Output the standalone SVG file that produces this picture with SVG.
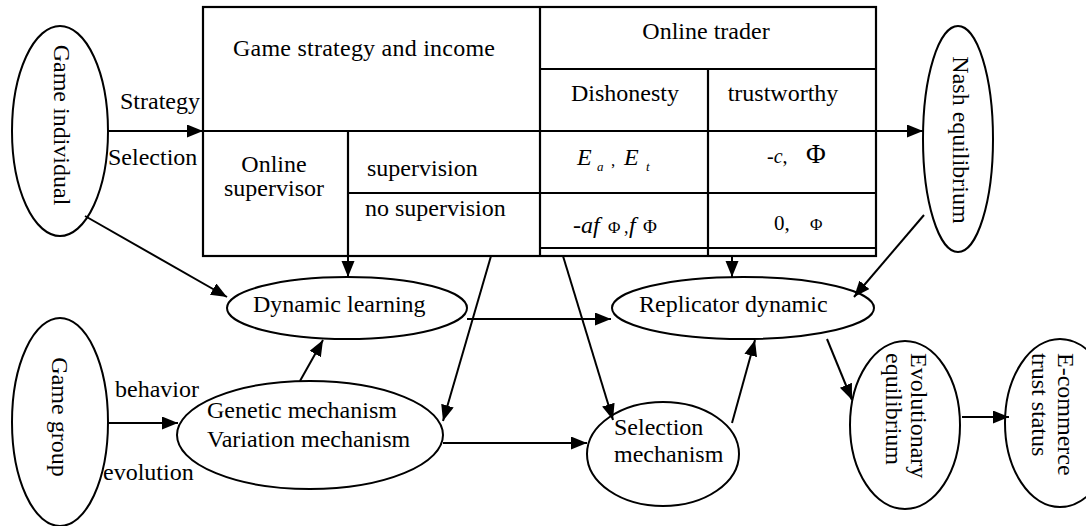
<svg xmlns="http://www.w3.org/2000/svg" width="1086" height="526" viewBox="0 0 1086 526">
<style>
.ln{stroke:#000;stroke-width:2.2;fill:none}
.node{stroke:#000;stroke-width:2;fill:#fff}
.c{stroke:#000;stroke-width:2;fill:none;marker-end:url(#ah)}
</style>
<defs>
<marker id="ah" markerUnits="userSpaceOnUse" markerWidth="18" markerHeight="14" refX="16" refY="6.5" orient="auto"><path d="M0,0 L16,6.5 L0,13 z" fill="#000"/></marker>
</defs>
<rect width="1086" height="526" fill="#fff"/>
<g id="table">
<rect class="ln" x="203" y="7" width="673" height="249"/>
<line class="ln" x1="540" y1="7" x2="540" y2="256"/>
<line class="ln" x1="540" y1="69" x2="876" y2="69"/>
<line class="ln" x1="708" y1="69" x2="708" y2="256"/>
<line class="ln" x1="203" y1="131" x2="876" y2="131"/>
<line class="ln" x1="348" y1="131" x2="348" y2="256"/>
<line class="ln" x1="348" y1="193" x2="876" y2="193"/>
<line class="ln" x1="540" y1="248" x2="876" y2="248"/>
<text style="font-family:'Liberation Serif',serif;font-size:24px" x="233" y="56" textLength="262" lengthAdjust="spacing">Game strategy and income</text>
<text style="font-family:'Liberation Serif',serif;font-size:24px" x="706" y="39" text-anchor="middle">Online trader</text>
<text style="font-family:'Liberation Serif',serif;font-size:24px" x="625" y="101" text-anchor="middle">Dishonesty</text>
<text style="font-family:'Liberation Serif',serif;font-size:24px" x="783" y="101" text-anchor="middle">trustworthy</text>
<text style="font-family:'Liberation Serif',serif;font-size:24px" x="274" y="172" text-anchor="middle">Online</text>
<text style="font-family:'Liberation Serif',serif;font-size:24px" x="274" y="196" text-anchor="middle">supervisor</text>
<text style="font-family:'Liberation Serif',serif;font-size:24px" x="367" y="176">supervision</text>
<text style="font-family:'Liberation Serif',serif;font-size:24px" x="365" y="216">no supervision</text>
<text style="font-family:'Liberation Serif',serif;font-size:24px;font-style:italic" x="577" y="165">E</text>
<text style="font-family:'Liberation Serif',serif;font-size:13px;font-style:italic" x="597" y="171">a</text>
<text style="font-family:'Liberation Serif',serif;font-size:17px" x="611" y="166">,</text>
<text style="font-family:'Liberation Serif',serif;font-size:24px;font-style:italic" x="624" y="165">E</text>
<text style="font-family:'Liberation Serif',serif;font-size:13px;font-style:italic" x="646" y="171">t</text>
<text style="font-family:'Liberation Serif',serif;font-size:24px;font-style:italic" x="573" y="233">-af</text>
<text style="font-family:'Liberation Serif',serif;font-size:17px" x="608" y="233">Φ</text>
<text style="font-family:'Liberation Serif',serif;font-size:18px" x="624" y="233">,</text>
<text style="font-family:'Liberation Serif',serif;font-size:24px;font-style:italic" x="629" y="233">f</text>
<text style="font-family:'Liberation Serif',serif;font-size:19px" x="643" y="233">Φ</text>
<text style="font-family:'Liberation Serif',serif;font-size:20px" x="767" y="163">-<tspan style="font-style:italic">c</tspan>,</text>
<text style="font-family:'Liberation Serif',serif;font-size:27px" x="806" y="163">Φ</text>
<text style="font-family:'Liberation Serif',serif;font-size:21px" x="774" y="230">0,</text>
<text style="font-family:'Liberation Serif',serif;font-size:17px" x="810" y="230">Φ</text>
</g>
<g id="game-individual">
<ellipse class="node" cx="60" cy="131" rx="48" ry="105"/>
<text style="font-family:'Liberation Serif',serif;font-size:24px" transform="translate(54 125) rotate(90)" text-anchor="middle">Game individual</text>
</g>
<g id="nash-equilibrium">
<ellipse class="node" cx="958" cy="139" rx="35" ry="113"/>
<text style="font-family:'Liberation Serif',serif;font-size:24px" transform="translate(953 140) rotate(90)" text-anchor="middle">Nash equilibrium</text>
</g>
<g id="game-group">
<ellipse class="node" cx="60" cy="422" rx="48" ry="104"/>
<text style="font-family:'Liberation Serif',serif;font-size:24px" transform="translate(52 417) rotate(90)" text-anchor="middle">Game group</text>
</g>
<g id="dynamic-learning">
<ellipse class="node" cx="347" cy="308" rx="120" ry="31"/>
<text style="font-family:'Liberation Serif',serif;font-size:24px" x="253" y="312">Dynamic learning</text>
</g>
<g id="genetic-variation">
<ellipse class="node" cx="310" cy="435" rx="133" ry="54"/>
<text style="font-family:'Liberation Serif',serif;font-size:24px" x="207" y="418">Genetic mechanism</text>
<text style="font-family:'Liberation Serif',serif;font-size:24px" x="207" y="447">Variation mechanism</text>
</g>
<g id="replicator-dynamic">
<ellipse class="node" cx="743" cy="308" rx="131" ry="31"/>
<text style="font-family:'Liberation Serif',serif;font-size:24px" x="639" y="312">Replicator dynamic</text>
</g>
<g id="selection-mechanism">
<ellipse class="node" cx="663" cy="454" rx="76" ry="52"/>
<text style="font-family:'Liberation Serif',serif;font-size:24px" x="614" y="435">Selection</text>
<text style="font-family:'Liberation Serif',serif;font-size:24px" x="614" y="462">mechanism</text>
</g>
<g id="evolutionary-equilibrium">
<ellipse class="node" cx="905" cy="425" rx="55" ry="84"/>
<text style="font-family:'Liberation Serif',serif;font-size:24px" transform="translate(911 353) rotate(90)">Evolutionary</text>
<text style="font-family:'Liberation Serif',serif;font-size:24px" transform="translate(886 353) rotate(90)">equilibrium</text>
</g>
<g id="ecommerce-trust-status">
<ellipse class="node" cx="1060" cy="423" rx="55" ry="84"/>
<text style="font-family:'Liberation Serif',serif;font-size:24px" transform="translate(1058 353) rotate(90)">E-commerce</text>
<text style="font-family:'Liberation Serif',serif;font-size:24px" transform="translate(1032 353) rotate(90)">trust status</text>
</g>
<g id="connectors">
<line class="c" x1="107" y1="131" x2="203" y2="131"/>
<line class="c" x1="876" y1="131" x2="923" y2="131"/>
<line class="c" x1="85" y1="216" x2="227" y2="297"/>
<line class="c" x1="348" y1="256" x2="348" y2="277"/>
<line class="c" x1="491" y1="256" x2="443" y2="421"/>
<line class="c" x1="563" y1="256" x2="613" y2="420"/>
<line class="c" x1="732" y1="256" x2="732" y2="277"/>
<line class="c" x1="924" y1="215" x2="854" y2="297"/>
<line class="c" x1="467" y1="319" x2="611" y2="319"/>
<line class="c" x1="300" y1="381" x2="323" y2="340"/>
<line class="c" x1="108" y1="423" x2="178" y2="423"/>
<line class="c" x1="443" y1="443" x2="587" y2="443"/>
<line class="c" x1="732" y1="423" x2="755" y2="340"/>
<line class="c" x1="827" y1="339" x2="852" y2="400"/>
<line class="c" x1="962" y1="417" x2="1009" y2="417"/>
<text style="font-family:'Liberation Serif',serif;font-size:24px" x="120" y="109">Strategy</text>
<text style="font-family:'Liberation Serif',serif;font-size:24px" x="108" y="165">Selection</text>
<text style="font-family:'Liberation Serif',serif;font-size:24px" x="115" y="397">behavior</text>
<text style="font-family:'Liberation Serif',serif;font-size:24px" x="103" y="480">evolution</text>
</g>
</svg>
